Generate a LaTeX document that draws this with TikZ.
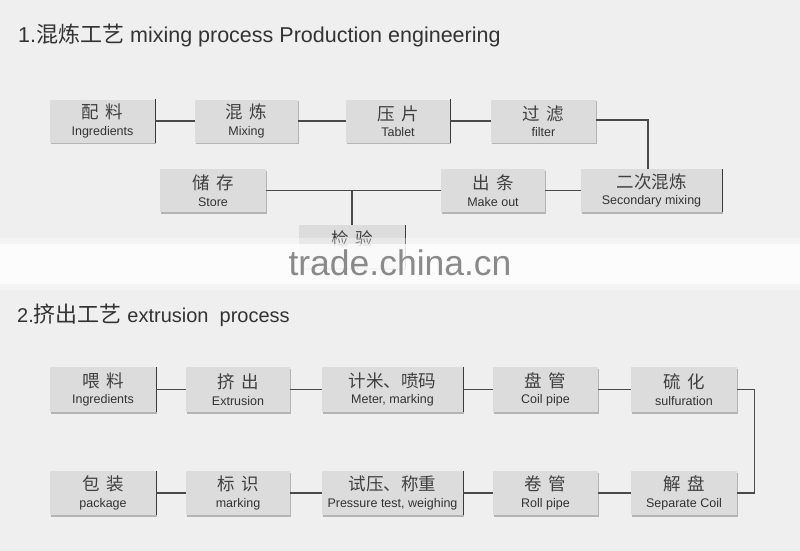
\documentclass[tikz,border=0pt]{standalone}
\usepackage{fontspec}
\setmainfont{Liberation Sans}
\newfontfamily\cjk{Noto Sans CJK SC}
\usetikzlibrary{shadows}
\definecolor{bgc}{HTML}{EFEFEF}
\definecolor{boxc}{HTML}{DCDCDC}
\definecolor{shadc}{HTML}{B4B4B4}
\definecolor{linec}{HTML}{4A4A4A}
\definecolor{edgec}{HTML}{3A3A3A}
\definecolor{txtc}{HTML}{333333}
\definecolor{cjkc}{HTML}{404040}
\definecolor{wmc}{HTML}{8A8A8A}
\tikzset{
  box/.style={fill=boxc, draw=none, minimum height=43pt, inner sep=0pt, align=center, text=txtc,
    drop shadow={shadow xshift=1.2pt, shadow yshift=-1.6pt, fill=shadc, opacity=1}},
  conn/.style={draw=linec, line width=1.1pt},
  darkedge/.style={draw=edgec, line width=1.2pt},
  title/.style={anchor=base west, inner sep=0pt, text=txtc},
}
\newcommand{\bx}[2]{{\cjk\color{cjkc}\fontsize{17.5}{17.5}\selectfont #1}\\[4.5pt]{\fontsize{12.5}{12.5}\selectfont #2}}
\newcommand{\csp}{\hspace{0.35em}}
\newcommand{\tcjk}[1]{{\cjk\fontsize{22}{22}\selectfont #1}}
\begin{document}
\begin{tikzpicture}[x=1pt,y=-1pt]
\fill[bgc] (0,0) rectangle (800,551);
\useasboundingbox (0,0) rectangle (800,551);

% titles
\node[title, font=\fontsize{21.5}{22}\selectfont] (t1) at (18,43) {1.\tcjk{混炼工艺} mixing process Production engineering};
\node[title, font=\fontsize{20}{22}\selectfont] (t2) at (17,322) {2.\tcjk{挤出工艺} extrusion\ \ process};

% section 1
\node[box, minimum width=105pt] (a1) at (102.5,121) {\bx{配\csp{}料}{Ingredients}};
\node[box, minimum width=103pt] (a2) at (246.5,121) {\bx{混\csp{}炼}{Mixing}};
\node[box, minimum width=104pt] (a3) at (398,121) {\bx{压\csp{}片}{Tablet}};
\node[box, minimum width=105pt] (a4) at (543.5,121) {\bx{过\csp{}滤}{filter}};
\node[box, minimum width=141pt] (a5) at (651.5,190.5) {\bx{二次混炼}{Secondary mixing}};
\node[box, minimum width=104pt] (a6) at (493,190.5) {\bx{出\csp{}条}{Make out}};
\node[box, minimum width=106pt] (a7) at (213,190.5) {\bx{储\csp{}存}{Store}};
\node[box, minimum width=106pt] (a8) at (352,246.5) {\bx{检\csp{}验}{}};

\draw[darkedge] (a1.north east) -- (a1.south east);
\draw[darkedge] (a3.north east) -- (a3.south east);
\draw[darkedge] (a5.north east) -- (a5.south east);
\draw[darkedge] (a8.north east) -- (a8.south east);

\draw[conn] (a1.east) -- (a2.west);
\draw[conn] (a2.east) -- (a3.west);
\draw[conn] (a3.east) -- (a4.west);
\draw[conn] ([yshift=1pt]a4.east) -| ([xshift=-3.5pt]a5.north);
\draw[conn] (a5.west) -- (a6.east);
\draw[conn] (a6.west) -- (a7.east);
\draw[conn] (a8.north) -- (a8.north |- a7.east);

% watermark band
\fill[white, opacity=0.85] (0,244) rectangle (800,284);
\fill[white, opacity=0.35] (0,238) rectangle (800,244);
\fill[white, opacity=0.35] (0,284) rectangle (800,290);
\node[anchor=base, inner sep=0pt, text=wmc, font=\fontsize{35.5}{36}\selectfont] (wm) at (400,275) {trade.china.cn};

% section 2 row 1
\node[box, minimum width=106pt, minimum height=45pt] (b1) at (103,389.5) {\bx{喂\csp{}料}{Ingredients}};
\node[box, minimum width=104pt, minimum height=45pt] (b2) at (238,389.5) {\bx{挤\csp{}出}{Extrusion}};
\node[box, minimum width=141pt, minimum height=45pt] (b3) at (392.5,389.5) {\bx{计米、喷码}{Meter, marking}};
\node[box, minimum width=105pt, minimum height=45pt] (b4) at (545.5,389.5) {\bx{盘\csp{}管}{Coil pipe}};
\node[box, minimum width=106pt, minimum height=45pt] (b5) at (684,389.5) {\bx{硫\csp{}化}{sulfuration}};
% row 2
\node[box, minimum width=106pt, minimum height=44pt] (c1) at (103,493) {\bx{包\csp{}装}{package}};
\node[box, minimum width=104pt, minimum height=44pt] (c2) at (238,493) {\bx{标\csp{}识}{marking}};
\node[box, minimum width=141pt, minimum height=44pt] (c3) at (392.5,493) {\bx{试压、称重}{Pressure test, weighing}};
\node[box, minimum width=105pt, minimum height=44pt] (c4) at (545.5,493) {\bx{卷\csp{}管}{Roll pipe}};
\node[box, minimum width=106pt, minimum height=44pt] (c5) at (684,493) {\bx{解\csp{}盘}{Separate Coil}};

\draw[darkedge] (b1.north east) -- (b1.south east);
\draw[darkedge] (b3.north east) -- (b3.south east);
\draw[darkedge] (c1.north east) -- (c1.south east);
\draw[darkedge] (c3.north east) -- (c3.south east);

\draw[conn] (b1.east) -- (b2.west);
\draw[conn] (b2.east) -- (b3.west);
\draw[conn] (b3.east) -- (b4.west);
\draw[conn] (b4.east) -- (b5.west);
\draw[conn] (b5.east) -- ++(17,0) coordinate (k1) |- (c5.east);
\draw[conn] (c5.west) -- (c4.east);
\draw[conn] (c4.west) -- (c3.east);
\draw[conn] (c3.west) -- (c2.east);
\draw[conn] (c2.west) -- (c1.east);
\end{tikzpicture}
\end{document}
